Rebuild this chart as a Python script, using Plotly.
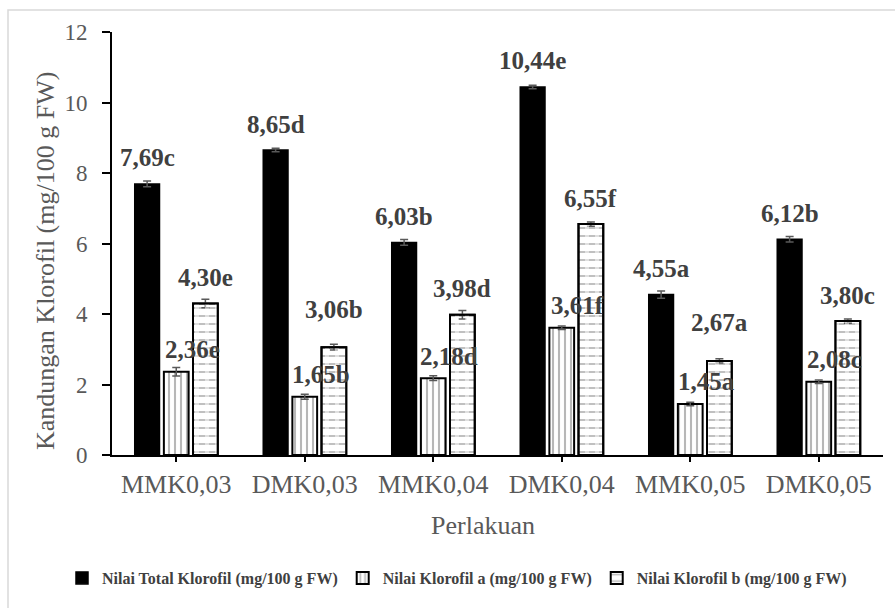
import plotly.graph_objects as go

# Treatments
perlakuan = ["MMK0,03", "DMK0,03", "MMK0,04", "DMK0,04", "MMK0,05", "DMK0,05"]

# Chlorophyll content (mg/100 g FW), notation letters and standard errors
total = [7.69, 8.65, 6.03, 10.44, 4.55, 6.12]
total_notasi = ["c", "d", "b", "e", "a", "b"]
total_err = [0.08, 0.05, 0.08, 0.05, 0.10, 0.08]

klorofil_a = [2.36, 1.65, 2.18, 3.61, 1.45, 2.08]
a_notasi = ["e", "b", "d", "f", "a", "c"]
a_err = [0.12, 0.07, 0.07, 0.05, 0.05, 0.05]

klorofil_b = [4.30, 3.06, 3.98, 6.55, 2.67, 3.80]
b_notasi = ["e", "b", "d", "f", "a", "c"]
b_err = [0.12, 0.08, 0.12, 0.06, 0.06, 0.06]

y_ticks = [0, 2, 4, 6, 8, 10, 12]

W, H = 895, 608
ML, MR, MT, MB = 112, 12, 32, 153
PW, PH = W - ML - MR, H - MT - MB


def px_x(px):
    """Horizontal pixel position -> paper coordinate."""
    return (px - ML) / PW


def px_y(py):
    """Vertical pixel position (from top) -> paper coordinate."""
    return (H - MB - py) / PH


SERIF = "Liberation Serif"
TICK_GRAY = "#595959"
LABEL_GRAY = "#404040"
ERR = dict(type="data", thickness=1.5, width=4, color=TICK_GRAY)

fig = go.Figure()
fig.add_trace(go.Bar(
    name="Nilai Total Klorofil (mg/100 g FW)", x=perlakuan, y=total, offsetgroup="t",
    marker=dict(color="black", line=dict(color="black", width=1.5)),
    error_y=dict(array=total_err, **ERR),
))
fig.add_trace(go.Bar(
    name="Nilai Klorofil a (mg/100 g FW)", x=perlakuan, y=klorofil_a, offsetgroup="a",
    marker=dict(color="white", line=dict(color="black", width=2),
                pattern=dict(shape="|", fgcolor="#6f6f6f", bgcolor="white",
                             size=6, solidity=0.35)),
    error_y=dict(array=a_err, **ERR),
))
fig.add_trace(go.Bar(
    name="Nilai Klorofil b (mg/100 g FW)", x=perlakuan, y=klorofil_b, offsetgroup="b",
    marker=dict(color="white", line=dict(color="black", width=2),
                pattern=dict(shape="-", fgcolor="#6e6e6e", bgcolor="white",
                             size=8, solidity=0.22)),
    error_y=dict(array=b_err, **ERR),
))
# White vertical stripes over the b bars break the lines into short dashes
fig.add_trace(go.Bar(
    x=perlakuan, y=klorofil_b, offsetgroup="b", showlegend=False, hoverinfo="skip",
    marker=dict(color="rgba(0,0,0,0)", line=dict(color="black", width=2),
                pattern=dict(shape="|", fgcolor="white", bgcolor="rgba(0,0,0,0)",
                             size=10, solidity=0.4, fillmode="overlay")),
))


# Value labels with notation letters
def fmt(v, huruf):
    return f"{v:.2f}".replace(".", ",") + huruf


bar_step = 29          # px between neighbouring bars in a group
lifted_b = {1, 4}      # b labels raised to clear the a labels
label_font = dict(family=SERIF, size=25, color=LABEL_GRAY)
for i, cat in enumerate(perlakuan):
    fig.add_annotation(x=cat, y=total[i], text=f"<b>{fmt(total[i], total_notasi[i])}</b>",
                       xshift=-bar_step, yshift=26, showarrow=False, font=label_font,
                       yanchor="middle")
    fig.add_annotation(x=cat, y=klorofil_a[i], text=f"<b>{fmt(klorofil_a[i], a_notasi[i])}</b>",
                       xshift=16, yshift=22, showarrow=False, font=label_font,
                       yanchor="middle")
    fig.add_annotation(x=cat, y=klorofil_b[i], text=f"<b>{fmt(klorofil_b[i], b_notasi[i])}</b>",
                       xshift=bar_step, yshift=38 if i in lifted_b else 26,
                       showarrow=False, font=label_font, yanchor="middle")

# Axis titles
title_font = dict(family=SERIF, size=26, color=TICK_GRAY)
fig.add_annotation(xref="paper", yref="paper", x=px_x(45), y=px_y(261),
                   text="Kandungan Klorofil (mg/100 g FW)", textangle=-90,
                   showarrow=False, font=title_font, xanchor="center", yanchor="middle")
fig.add_annotation(xref="paper", yref="paper", x=px_x(483), y=px_y(525),
                   text="Perlakuan", showarrow=False, font=title_font,
                   xanchor="center", yanchor="middle")

# Chart-area frame
fig.add_shape(type="rect", xref="paper", yref="paper",
              x0=px_x(8), x1=px_x(W + 20), y0=px_y(H + 20), y1=px_y(10),
              line=dict(color="#d9d9d9", width=1.5), fillcolor="rgba(0,0,0,0)",
              layer="below")

fig.update_layout(
    width=W, height=H,
    margin=dict(l=ML, r=MR, t=MT, b=MB),
    paper_bgcolor="white", plot_bgcolor="white",
    barmode="group", bargap=0.32, bargroupgap=0.15,
    font=dict(family=SERIF, color=TICK_GRAY),
    legend=dict(orientation="h", x=px_x(62), xanchor="left", y=px_y(578), yanchor="middle",
                font=dict(family=SERIF, size=16, color=LABEL_GRAY, weight="bold"),
                itemwidth=30, tracegroupgap=0, bgcolor="rgba(0,0,0,0)"),
    showlegend=True,
)
fig.update_xaxes(
    showline=True, linecolor="black", linewidth=2,
    ticks="outside", ticklen=5, tickwidth=2, tickcolor="black",
    tickfont=dict(family=SERIF, size=26, color=TICK_GRAY),
    showgrid=False,
)
fig.update_yaxes(
    range=[0, 12], tickvals=y_ticks, ticktext=[str(t) for t in y_ticks],
    showline=True, linecolor="black", linewidth=2,
    ticks="outside", ticklen=8, tickwidth=2, tickcolor="black",
    ticklabelstandoff=10,
    tickfont=dict(family=SERIF, size=23, color=TICK_GRAY),
    showgrid=False, zeroline=False,
)

fig.write_html("out.html")
